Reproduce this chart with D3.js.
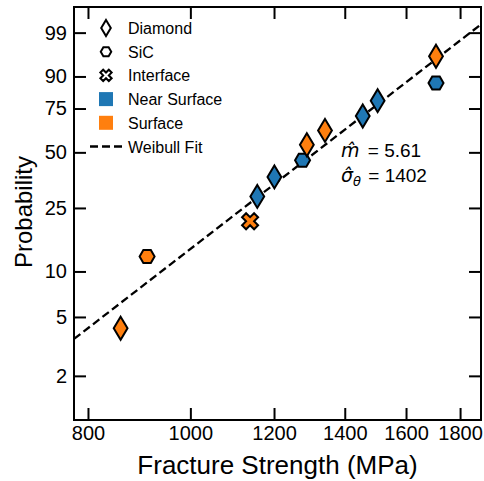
<!DOCTYPE html>
<html>
<head>
<meta charset="utf-8">
<script src="https://cdn.jsdelivr.net/npm/d3@7"></script>
<style>
  body { margin: 0; background: #fff; }
  text { font-family: "Liberation Sans", Arial, sans-serif; }
</style>
</head>
<body>
<div id="chart-area"></div>
<script>
// data
const strength = [859, 910, 1139, 1157, 1201, 1277, 1289, 1341, 1456, 1504, 1708, 1708];
const probability = [4.2, 12.5, 20.8, 29.2, 37.5, 45.8, 54.2, 62.5, 70.8, 79.2, 87.5, 95.8];
const origin = ["Diamond", "SiC", "Interface", "Diamond", "Diamond", "SiC",
  "Diamond", "Diamond", "Diamond", "Diamond", "SiC", "Diamond"];
const failSite = ["Surface", "Surface", "Surface", "Near Surface", "Near Surface", "Near Surface",
  "Surface", "Surface", "Near Surface", "Near Surface", "Near Surface", "Surface"];

const xTicks = [800, 1000, 1200, 1400, 1600, 1800];
const yTicks = [2, 5, 10, 25, 50, 75, 90, 99];
const weibullM = 5.61;
const weibullSigma = 1402;

const W = 484, H = 481;
const LEFT = 74, RIGHT = 481, TOP = 7, BOTTOM = 420;

const svg = d3.select("#chart-area").append("svg")
  .attr("width", W)
  .attr("height", H);

// weibull probability transform
const wb = p => Math.log(-Math.log(1 - p / 100));

const x = d3.scaleLog()
  .domain([776, 1884])
  .range([LEFT, RIGHT]);

const y = d3.scaleLinear()
  .domain([wb(1), wb(99.9)])
  .range([BOTTOM, TOP]);

const color = { "Near Surface": "#1f77b4", "Surface": "#ff7f0e" };

// marker shapes
function markerPath(kind, s) {
  if (kind === "Diamond") {
    const h = s / 2, w = s * 0.3;
    return `M0,${-h}L${w},0L0,${h}L${-w},0Z`;
  }
  if (kind === "SiC") {
    const r = s / 2;
    const pts = d3.range(6).map(i => {
      const a = Math.PI / 3 * i;
      return [r * Math.cos(a), r * Math.sin(a)];
    });
    return "M" + pts.join("L") + "Z";
  }
  // filled X
  const u = s / 6;
  const base = [[-1, -3], [1, -3], [1, -1], [3, -1], [3, 1], [1, 1], [1, 3], [-1, 3], [-1, 1], [-3, 1], [-3, -1], [-1, -1]];
  const c = Math.SQRT1_2;
  const pts = base.map(([a, b]) => [((a - b) * c * u).toFixed(2), ((a + b) * c * u).toFixed(2)]);
  return "M" + pts.join("L") + "Z";
}
const markerSize = { "Diamond": 23, "SiC": 15, "Interface": 17 };

// fit line, W = m ln(s / sigma)
svg.append("path")
  .datum(x.domain())
  .attr("fill", "none")
  .attr("stroke", "#000")
  .attr("stroke-width", 2.3)
  .attr("stroke-dasharray", "8,4")
  .attr("d", d3.line()
    .x(d => x(d))
    .y(d => y(weibullM * Math.log(d / weibullSigma))));

// points
const points = strength.map((s, i) => ({
  s: s, p: probability[i], origin: origin[i], site: failSite[i]
}));

svg.append("g").selectAll("path")
  .data(points)
  .enter().append("path")
  .attr("transform", d => `translate(${x(d.s)},${y(wb(d.p))})`)
  .attr("d", d => markerPath(d.origin, markerSize[d.origin]))
  .attr("fill", d => color[d.site])
  .attr("stroke", "#000")
  .attr("stroke-width", 2)
  .attr("stroke-linejoin", "miter");

// axes
const xAxisB = d3.axisBottom(x).tickValues(xTicks).tickFormat(d3.format("d"))
  .tickSizeInner(-12).tickSizeOuter(0).tickPadding(6);
const xAxisT = d3.axisTop(x).tickValues(xTicks).tickFormat("")
  .tickSizeInner(-12).tickSizeOuter(0);
const yAxisL = d3.axisLeft(y).tickValues(yTicks.map(wb))
  .tickFormat((d, i) => yTicks[i])
  .tickSizeInner(-12).tickSizeOuter(0).tickPadding(7);
const yAxisR = d3.axisRight(y).tickValues(yTicks.map(wb)).tickFormat("")
  .tickSizeInner(-12).tickSizeOuter(0);

const axes = [
  svg.append("g").attr("transform", `translate(0,${BOTTOM})`).call(xAxisB),
  svg.append("g").attr("transform", `translate(0,${TOP})`).call(xAxisT),
  svg.append("g").attr("transform", `translate(${LEFT},0)`).call(yAxisL),
  svg.append("g").attr("transform", `translate(${RIGHT},0)`).call(yAxisR)
];
axes.forEach(a => {
  a.select(".domain").remove();
  a.selectAll("line").attr("stroke", "#000").attr("stroke-width", 2);
  a.selectAll("text")
    .attr("fill", "#000")
    .style("font-family", "Liberation Sans, Arial, sans-serif")
    .style("font-size", "20px");
});

svg.append("rect")
  .attr("x", LEFT)
  .attr("y", TOP)
  .attr("width", RIGHT - LEFT)
  .attr("height", BOTTOM - TOP)
  .attr("fill", "none")
  .attr("stroke", "#000")
  .attr("stroke-width", 2);

// axis labels
svg.append("text")
  .attr("x", (LEFT + RIGHT) / 2)
  .attr("y", 474)
  .attr("text-anchor", "middle")
  .attr("font-size", "26px")
  .text("Fracture Strength (MPa)");

svg.append("text")
  .attr("transform", "rotate(-90)")
  .attr("x", -212)
  .attr("y", 32)
  .attr("text-anchor", "middle")
  .attr("font-size", "24px")
  .text("Probability");

// legend
const legendItems = [
  { label: "Diamond", kind: "Diamond" },
  { label: "SiC", kind: "SiC" },
  { label: "Interface", kind: "Interface" },
  { label: "Near Surface", kind: "square", fill: color["Near Surface"] },
  { label: "Surface", kind: "square", fill: color["Surface"] },
  { label: "Weibull Fit", kind: "line" }
];
const legendSize = { "Diamond": 16, "SiC": 10.5, "Interface": 12 };

const legend = svg.append("g").attr("transform", "translate(106,28)");
legendItems.forEach((item, i) => {
  const row = legend.append("g").attr("transform", `translate(0,${i * 23.7})`);
  if (item.kind === "square") {
    row.append("rect")
      .attr("x", -7).attr("y", -7)
      .attr("width", 14).attr("height", 14)
      .attr("fill", item.fill);
  } else if (item.kind === "line") {
    row.append("line")
      .attr("x1", -16).attr("x2", 17)
      .attr("stroke", "#000").attr("stroke-width", 2.3)
      .attr("stroke-dasharray", "8,4");
  } else {
    row.append("path")
      .attr("d", markerPath(item.kind, legendSize[item.kind]))
      .attr("fill", "#fff")
      .attr("stroke", "#000")
      .attr("stroke-width", 2);
  }
  row.append("text")
    .attr("x", 22)
    .attr("y", 6)
    .attr("font-size", "16px")
    .text(item.label);
});

// fit parameters
const ann = svg.append("text")
  .attr("x", 341)
  .attr("y", 157)
  .attr("font-size", "19px")
  .attr("xml:space", "preserve");
ann.append("tspan")
  .style("font-family", "DejaVu Sans")
  .style("font-style", "italic")
  .text("m\u0302");
ann.append("tspan").attr("dx", 3).text(" = 5.61");

const ann2 = svg.append("text")
  .attr("x", 341)
  .attr("y", 182)
  .attr("font-size", "19px")
  .attr("xml:space", "preserve");
ann2.append("tspan")
  .style("font-family", "DejaVu Sans")
  .style("font-style", "italic")
  .text("\u03c3\u0302");
ann2.append("tspan")
  .style("font-family", "DejaVu Sans")
  .style("font-style", "italic")
  .attr("font-size", "13px")
  .attr("dy", 4)
  .text("\u03b8");
ann2.append("tspan")
  .attr("dy", -4)
  .attr("dx", 2)
  .text(" = 1402");
</script>
</body>
</html>
